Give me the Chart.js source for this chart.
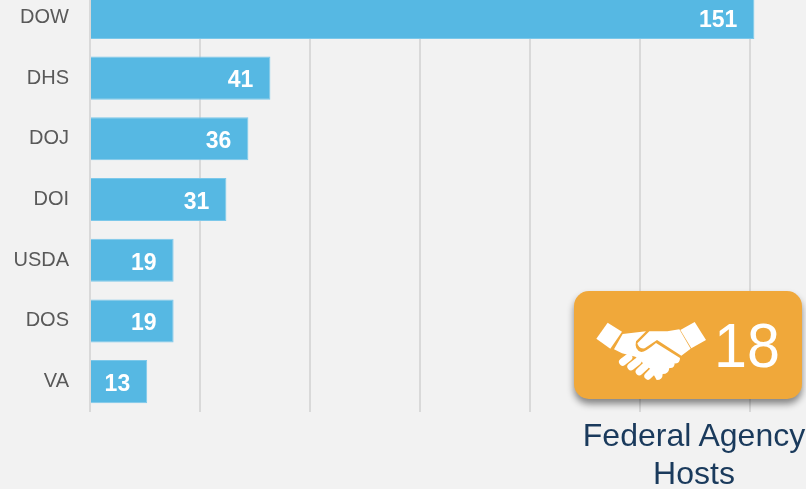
<!DOCTYPE html>
<html>
<head>
<meta charset="utf-8">
<style>
html, body { margin: 0; padding: 0; width: 806px; height: 489px; overflow: hidden; background: #f2f2f2; font-family: "Liberation Sans", Arial, sans-serif; }
#wrap { position: absolute; left: 0; top: -38px; width: 806px; height: 527px; }
#badge { position: absolute; left: 574px; top: 291px; width: 228px; height: 108px; border-radius: 15px; background: #f0a83a; box-shadow: 0 5px 7px rgba(0,0,0,0.45); }
#badge span { position: absolute; left: 140px; top: 17px; font-size: 63px; line-height: 75px; color: #fff; transform: scaleX(0.94); transform-origin: left center; }
#badge svg { position: absolute; left: 18px; top: 25px; }
#caption { position: absolute; left: 574px; top: 416px; width: 240px; text-align: center; font-size: 32px; line-height: 38px; color: #1a3a5c; }
</style>
</head>
<body>
<div id="wrap"><canvas id="chartCanvas" width="806" height="527"></canvas></div>
<div id="badge">
    <svg width="120" height="70" viewBox="0 0 360 210" fill="#fff">
        <path d="M47 20 L90 47 L55 98 L13 68 Z"/>
        <path d="M308 18 L265 42 L298 97 L342 72 Z"/>
        <path d="M92 54 L162 46 L132 76 Q126 102 148 108 Q160 108 192 81 L264 126 Q264 144 248 142 Q248 158 232 156 Q230 174 212 174 Q212 192 194 192 L176 160 L130 122 L90 112 L66 100 Z"/>
        <path d="M172 46 L226 46 L262 40 L296 98 L268 119 L195 72 L158 97 Q140 100 136 82 Z"/>
        <g stroke="#fff" stroke-width="22" stroke-linecap="round">
            <path d="M92 138 L110 124"/>
            <path d="M117 152 L137 136"/>
            <path d="M142 167 L160 150"/>
            <path d="M168 180 L182 166"/>
        </g>
    </svg>
    <span>18</span>
</div>
<div id="caption">Federal Agency<br>Hosts</div>
<script src="https://cdn.jsdelivr.net/npm/chart.js@4"></script>
<script>
const agencies = ["DOW", "DHS", "DOJ", "DOI", "USDA", "DOS", "VA"];
const hostCounts = [151, 41, 36, 31, 19, 19, 13];

// value labels sit inside the end of each bar
const barLabels = {
    id: "barLabels",
    afterDatasetsDraw(chart) {
        const ctx = chart.ctx;
        ctx.save();
        ctx.fillStyle = "#fff";
        ctx.font = 'bold 23px "Liberation Sans"';
        ctx.textAlign = "right";
        ctx.textBaseline = "middle";
        chart.getDatasetMeta(0).data.forEach((bar, i) => {
            ctx.fillText(hostCounts[i], bar.x - 17, bar.y + 3);
        });
        ctx.restore();
    }
};

new Chart(document.getElementById("chartCanvas"), {
    type: "bar",
    data: {
        labels: agencies,
        datasets: [{
            data: hostCounts,
            backgroundColor: "#56b8e3",
            borderColor: "#7cc8ea",
            borderWidth: 1,
            barPercentage: 0.71,
            categoryPercentage: 1
        }]
    },
    options: {
        indexAxis: "y",
        responsive: false,
        animation: false,
        layout: { padding: { top: 13, right: 12, bottom: 77, left: 0 } },
        plugins: { legend: { display: false }, tooltip: { enabled: false } },
        scales: {
            x: {
                min: 0,
                max: 160,
                ticks: { display: false, stepSize: 25, includeBounds: false },
                grid: { color: "#d9d9d9", lineWidth: 2, drawTicks: false },
                border: { display: false }
            },
            y: {
                afterFit(scale) { scale.width = 90; },
                ticks: { color: "#595959", font: { family: "Liberation Sans", size: 20 }, padding: 13 },
                grid: { display: false },
                border: { display: false }
            }
        }
    },
    plugins: [barLabels]
});
</script>
</body>
</html>
